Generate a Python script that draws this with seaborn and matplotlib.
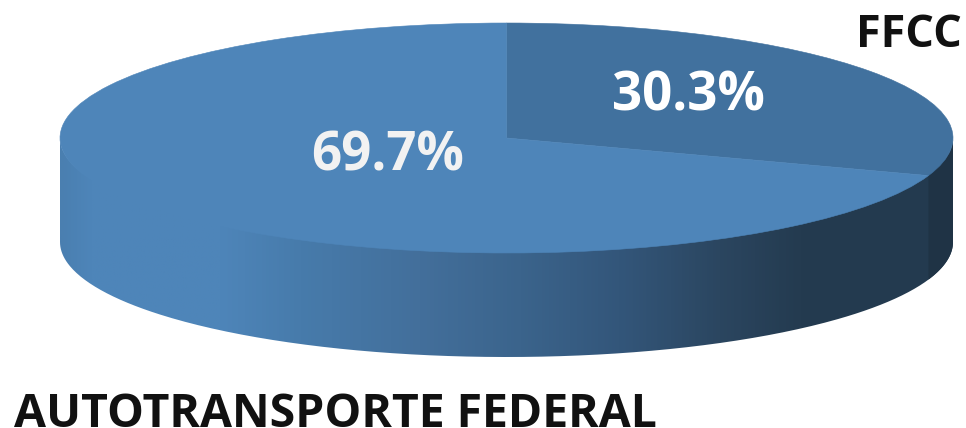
import numpy as np
import matplotlib
matplotlib.use("Agg")
import matplotlib.pyplot as plt
from matplotlib.colors import LinearSegmentedColormap
from matplotlib.patches import PathPatch
from matplotlib.path import Path
import seaborn as sns

categories = ["FFCC", "AUTOTRANSPORTE FEDERAL"]
shares = [30.3, 69.7]

W, H = 966, 428
CX, CY, RX, RY, DEPTH = 506.5, 138, 446.5, 115, 104
FONT = "Open Sans"

sns.set_theme(style="white")
plt.rcParams["font.family"] = [FONT, "DejaVu Sans"]

fig = plt.figure(figsize=(W / 100, H / 100), dpi=100, facecolor="white")
ax = fig.add_axes([0, 0, 1, 1])
sx = lambda px: (px - CX) / RX
sy = lambda py: (CY - py) / RY
d = DEPTH / RY


def wall_path(a0, a1):
    # top edge is pulled slightly under the lid so no seam shows between them
    t = np.radians(np.linspace(a0, a1, 300))
    x, y = np.cos(t), np.sin(t)
    xy = np.r_[np.c_[x, y * 0.97], np.c_[x[::-1], y[::-1] - d]]
    return Path(np.r_[xy, xy[:1]], closed=False)


stops = [(60, "#4a7fb0"), (90, "#4e85b9"), (220, "#4e85b9"), (300, "#477bab"),
         (420, "#436f9b"), (520, "#3b648c"), (620, "#33567a"), (720, "#2b4660"),
         (800, "#243b50"), (953, "#233a4f")]
cmap = LinearSegmentedColormap.from_list(
    "wall", [((p - 60) / (953 - 60), c) for p, c in stops])

end_angle = 90 - 360 * shares[0] / sum(shares)

img = ax.imshow(np.linspace(0, 1, 512)[None, :], cmap=cmap, aspect="auto",
                extent=(sx(60), sx(953), -1 - d, 0.2), zorder=1)
img.set_clip_path(PathPatch(wall_path(180, 360), transform=ax.transData))
ax.add_patch(PathPatch(wall_path(end_angle, 0), fc="#1f3345", ec="none", zorder=2))

lid_colors = ["#41719e", "#4e85b9"]
wedges, _ = ax.pie(shares, startangle=90, counterclock=False, radius=1,
                   colors=lid_colors, wedgeprops={"lw": 0})
for w, c in zip(wedges, lid_colors):
    w.set_zorder(3)
    w.set_edgecolor(c)
    w.set_linewidth(0.4)

ax.set_aspect("auto")
ax.set_xlim(sx(0), sx(W))
ax.set_ylim(sy(H), sy(0))
ax.axis("off")


def px_text(x, y, s, size, color, ha="center"):
    fig.text(x / W, 1 - y / H, s, fontsize=size, fontweight="bold", color=color,
             ha=ha, va="center_baseline", family=[FONT, "DejaVu Sans"], zorder=5)


px_text(688, 90, f"{shares[0]}%", 38, "#ffffff")
px_text(388, 150, f"{shares[1]}%", 38, "#f2f2f2")
px_text(962, 30, categories[0], 32.5, "#111111", ha="right")
px_text(14, 409, categories[1], 33.4, "#111111", ha="left")

fig.savefig("out.png", dpi=100, facecolor="white")
